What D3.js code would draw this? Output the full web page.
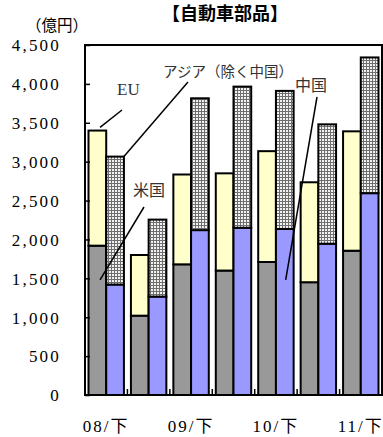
<!DOCTYPE html>
<html>
<head>
<meta charset="utf-8">
<script src="https://cdn.jsdelivr.net/npm/d3@7/dist/d3.min.js"></script>
<style>
  html, body { margin: 0; padding: 0; background: #fff; }
  svg { display: block; }
  .num { font-family: "Liberation Serif", "Noto Sans CJK JP", serif; }
  .jp { font-family: "Noto Sans CJK JP", sans-serif; }
</style>
</head>
<body>
<svg id="chart" width="383" height="437"></svg>
<script>
// Half-year periods (上 = first half, 下 = second half)
const periods = ["08/下", "09/上", "09/下", "10/上", "10/下", "11/上", "11/下"];
// Automotive parts exports by destination, 億円
const us = [1920, 1020, 1680, 1600, 1710, 1450, 1855];
const eu = [1480, 780, 1155, 1250, 1425, 1285, 1535];
const china = [1420, 1265, 2120, 2150, 2135, 1945, 2595];
const asiaExChina = [1645, 990, 1695, 1815, 1775, 1535, 1745];
const yTicks = [0, 500, 1000, 1500, 2000, 2500, 3000, 3500, 4000, 4500];
const xLabels = ["08/下", "09/下", "10/下", "11/下"];

const svg = d3.select("#chart");
const plot = { left: 85, right: 382, top: 45, bottom: 395 };

const x = d3.scaleBand().domain(periods).range([plot.left, plot.right]).padding(0);
const inner = d3.scaleBand().domain(["a", "b"]).range([3.5, x.bandwidth() - 3.5]).padding(0);
const y = d3.scaleLinear().domain([0, 4500]).range([plot.bottom, plot.top]);

const defs = svg.append("defs");
const pat = defs.append("pattern")
  .attr("id", "grid").attr("width", 3).attr("height", 3)
  .attr("patternUnits", "userSpaceOnUse");
pat.append("rect").attr("width", 3).attr("height", 3).attr("fill", "#f2f2f2");
pat.append("path").attr("d", "M0 0.5H3M0.5 0V3")
  .attr("stroke", "#6e6e6e").attr("stroke-width", 1);

// Stacked segments: left bar = US + EU, right bar = China + other Asia
const segments = [];
periods.forEach((p, i) => {
  segments.push({ p, bar: "a", y0: 0, y1: us[i], fill: "#999999" });
  segments.push({ p, bar: "a", y0: us[i], y1: us[i] + eu[i], fill: "#ffffcc" });
  segments.push({ p, bar: "b", y0: 0, y1: china[i], fill: "#9999ff" });
  segments.push({ p, bar: "b", y0: china[i], y1: china[i] + asiaExChina[i], fill: "url(#grid)" });
});

svg.append("g").selectAll("rect").data(segments).join("rect")
  .attr("x", d => x(d.p) + inner(d.bar))
  .attr("width", inner.bandwidth())
  .attr("y", d => y(d.y1))
  .attr("height", d => y(d.y0) - y(d.y1))
  .attr("fill", d => d.fill)
  .attr("stroke", "#000")
  .attr("stroke-width", 2);

// Y axis with inward ticks
const yAxis = svg.append("g")
  .attr("transform", `translate(${plot.left},0)`)
  .call(d3.axisLeft(y).tickValues(yTicks).tickFormat(d3.format(",")).tickSizeInner(-5).tickSizeOuter(0).tickPadding(24));
yAxis.select(".domain").remove();
yAxis.selectAll(".tick line").attr("stroke", "#000").attr("stroke-width", 1.5);
yAxis.selectAll("text").attr("class", "num").attr("font-size", 17)
  .attr("letter-spacing", "2.2px").attr("fill", "#000").attr("dy", "0.34em");

// Category boundary ticks along the bottom
svg.append("g").selectAll("line").data(periods.slice(1)).join("line")
  .attr("x1", d => x(d)).attr("x2", d => x(d))
  .attr("y1", plot.bottom).attr("y2", plot.bottom - 6)
  .attr("stroke", "#000").attr("stroke-width", 1.5);

// X labels on second-half periods
const xAxis = svg.append("g")
  .attr("transform", `translate(0,${plot.bottom})`)
  .call(d3.axisBottom(x).tickValues(xLabels).tickSize(0).tickPadding(25));
xAxis.select(".domain").remove();
xAxis.selectAll("text").attr("class", "num").attr("font-size", 17)
  .attr("letter-spacing", "2px").attr("fill", "#000");

// Plot frame
svg.append("rect")
  .attr("x", plot.left).attr("y", plot.top)
  .attr("width", plot.right - plot.left).attr("height", plot.bottom - plot.top)
  .attr("fill", "none").attr("stroke", "#000").attr("stroke-width", 2);

// Title and unit
svg.append("text").attr("class", "jp").attr("x", 225).attr("y", 20)
  .attr("text-anchor", "middle").attr("font-size", 18).attr("font-weight", "bold")
  .text("【自動車部品】");
svg.append("text").attr("class", "jp").attr("x", 57).attr("y", 31)
  .attr("text-anchor", "middle").attr("font-size", 15.5)
  .text("（億円）");

// Series callouts with leader lines
const bx = (i, bar, f) => x(periods[i]) + inner(bar) + inner.bandwidth() * f;
const callouts = [
  { text: "EU", cls: "num", size: 17, tx: 117, ty: 95, lx: 122, ly: 110, ex: bx(0, "a", 0.65), ey: y(3440) },
  { text: "アジア（除く中国）", cls: "jp", size: 14.5, tx: 163, ty: 77, lx: 188, ly: 82, ex: bx(0, "b", 1), ey: y(china[0] + asiaExChina[0]) },
  { text: "中国", cls: "jp", size: 16, tx: 295, ty: 91, lx: 317, ly: 97, ex: bx(4, "b", 0.55), ey: y(1480) },
  { text: "米国", cls: "jp", size: 16, tx: 133, ty: 196, lx: 144, ly: 207, ex: bx(0, "a", 0.65), ey: y(1480) }
];
svg.append("g").selectAll("line").data(callouts).join("line")
  .attr("x1", d => d.lx).attr("y1", d => d.ly)
  .attr("x2", d => d.ex).attr("y2", d => d.ey)
  .attr("stroke", "#000").attr("stroke-width", 1.5);
svg.append("g").selectAll("text").data(callouts).join("text")
  .attr("class", d => d.cls).attr("font-size", d => d.size)
  .attr("x", d => d.tx).attr("y", d => d.ty)
  .attr("fill", "#333")
  .text(d => d.text);
</script>
</body>
</html>
